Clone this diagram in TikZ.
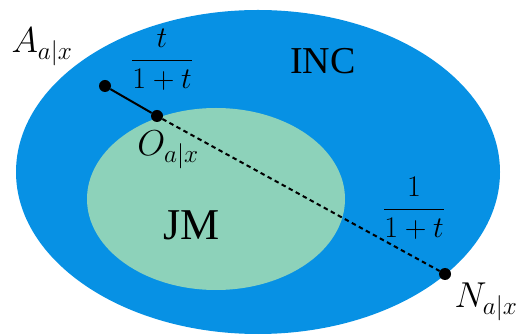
\documentclass[tikz,border=0pt]{standalone}
\usepackage{fix-cm}
\usepackage{amsmath}
\usepackage{fontspec}
\setmainfont{Liberation Serif}
\usetikzlibrary{shapes.geometric}
\definecolor{incblue}{HTML}{0791E4}
\definecolor{jmgreen}{HTML}{8DD2BA}
\tikzset{
    setshape/.style={ellipse, draw=none, inner sep=0pt},
    pointdot/.style={circle, fill=black, inner sep=0pt, minimum size=12pt},
    biglabel/.style={inner sep=0pt, font=\fontsize{36}{40}\selectfont},
    fraclabel/.style={inner sep=0pt, font=\fontsize{30}{33}\selectfont},
    solidseg/.style={line width=2pt, draw=black},
    dottedseg/.style={line width=2pt, draw=black, dash pattern=on 4.5pt off 3.5pt}
}
\begin{document}
\begin{tikzpicture}[x=1pt, y=-1pt]
    \useasboundingbox (0,0) rectangle (527,336);
    % the two sets
    \node[setshape, fill=incblue, minimum width=484pt, minimum height=324pt] (inc) at (258,172) {};
    \node[setshape, fill=jmgreen, minimum width=258pt, minimum height=182pt] (jm) at (216,199) {};
    \node[biglabel, font=\fontsize{38}{40}\selectfont] (inctext) at (323,61) {INC};
    \node[biglabel, font=\fontsize{44}{46}\selectfont] (jmtext) at (192,225) {JM};
    % points on the segment
    \node[pointdot] (A) at (105,86) {};
    \node[pointdot] (O) at (157,116) {};
    \node[pointdot] (N) at (445,274) {};
    \draw[solidseg] (A) -- (O);
    \draw[dottedseg] (O) -- (N);
    \node[biglabel] (Alabel) at (42,47) {$A_{a|x}$};
    \node[biglabel] (Olabel) at (168,150) {$O_{a|x}$};
    \node[biglabel] (Nlabel) at (486,302) {$N_{a|x}$};
    \node[fraclabel] (tfrac) at (162,60) {$\dfrac{t}{1+t}$};
    \node[fraclabel] (onefrac) at (414,208) {$\dfrac{1}{1+t}$};
\end{tikzpicture}
\end{document}
